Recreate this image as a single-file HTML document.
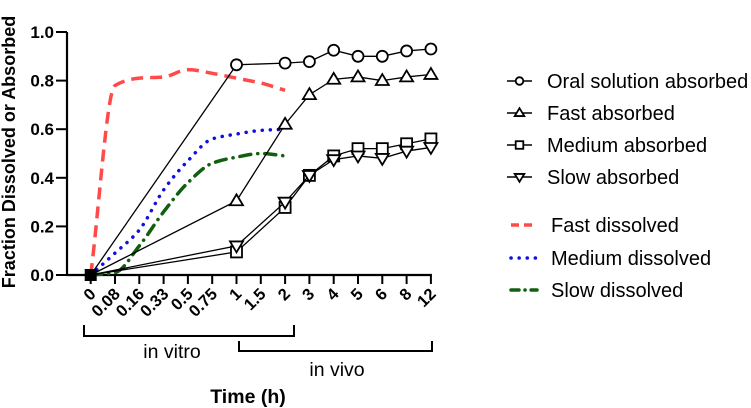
<!DOCTYPE html>
<html><head><meta charset="utf-8">
<style>
html,body{margin:0;padding:0;background:#fff;width:751px;height:408px;overflow:hidden}
svg text{font-family:"Liberation Sans",Arial,sans-serif}
</style></head>
<body>
<svg id="chart" width="751" height="408" viewBox="0 0 751 408" xmlns="http://www.w3.org/2000/svg"></svg>
<script>
const categories=["0","0.08","0.16","0.33","0.5","0.75","1","1.5","2","3","4","5","6","8","12"];
const yTicks=[0,0.2,0.4,0.6,0.8,1.0];
const yTickLabels=["0.0","0.2","0.4","0.6","0.8","1.0"];
const absIdx=[0,6,8,9,10,11,12,13,14];
const oralAbs=[0,0.865,0.872,0.878,0.925,0.9,0.9,0.922,0.93];
const fastAbs=[0,0.305,0.62,0.742,0.805,0.815,0.8,0.815,0.825];
const mediumAbs=[0,0.095,0.278,0.41,0.49,0.52,0.52,0.54,0.56];
const slowAbs=[0,0.12,0.3,0.41,0.475,0.49,0.48,0.51,0.525];
const dissIdx=[0,1,2,3,4,5,6,7,8];
const fastDiss=[0,0.78,0.81,0.815,0.845,0.83,0.81,0.79,0.76];
const mediumDiss=[0,0.09,0.185,0.35,0.47,0.56,0.58,0.595,0.6];
const slowDiss=[0,0.01,0.12,0.26,0.38,0.46,0.485,0.5,0.49];

const NS="http://www.w3.org/2000/svg";
const svg=document.getElementById('chart');
function mk(t,a,p){const e=document.createElementNS(NS,t);for(const k in a)e.setAttribute(k,a[k]);(p||svg).appendChild(e);return e;}
const x0=90.7,dx=24.3,yB=275,yT=32;
function X(i){return x0+i*dx;}
function Y(v){return yB-(yB-yT)*v;}

let e=mk('line',{x1:67,y1:yT,x2:67,y2:yB+1,stroke:'#000','stroke-width':2.2});

e=mk('line',{x1:66,y1:yB,x2:X(14)+1,y2:yB,stroke:'#000','stroke-width':2.2});

yTicks.forEach((v,i)=>{
  mk('line',{x1:56,y1:Y(v),x2:67,y2:Y(v),stroke:'#000','stroke-width':2});
  const t=mk('text',{x:54,y:Y(v)+6,'text-anchor':'end','font-size':17,'font-weight':'bold'});
  t.textContent=yTickLabels[i];
  
  
});
categories.forEach((c,i)=>{
  mk('line',{x1:X(i),y1:yB,x2:X(i),y2:yB+9,stroke:'#000','stroke-width':2});
  const t=mk('text',{x:X(i)+6,y:yB+20,'text-anchor':'end','font-size':16.5,'font-weight':'bold',transform:`rotate(-45 ${X(i)+6} ${yB+20})`});
  t.textContent=c;
  
  
});
e=mk('text',{x:0,y:0,'text-anchor':'middle','font-size':18,'font-weight':'bold',transform:'translate(15 152) rotate(-90)'});
e.textContent='Fraction Dissolved or Absorbed';

e=mk('text',{x:248,y:403,'text-anchor':'middle','font-size':19.5,'font-weight':'bold'});
e.textContent='Time (h)';

e=mk('path',{d:'M84 325 V336 H294 V325',fill:'none',stroke:'#000','stroke-width':2});

e=mk('text',{x:172,y:358,'text-anchor':'middle','font-size':19.5});e.textContent='in vitro';

e=mk('path',{d:'M239 341 V351 H432 V341',fill:'none',stroke:'#000','stroke-width':2});

e=mk('text',{x:337,y:376,'text-anchor':'middle','font-size':19.5});e.textContent='in vivo';


function marker(type,cx,cy,g,s){
  s=s||5.5;
  if(type==='circle')return mk('circle',{cx,cy,r:s,fill:'#fff',stroke:'#000','stroke-width':1.8},g);
  if(type==='square')return mk('rect',{x:cx-s,y:cy-s,width:2*s,height:2*s,fill:'#fff',stroke:'#000','stroke-width':1.8},g);
  if(type==='tri')return mk('polygon',{points:`${cx},${cy-s-1} ${cx-s-1},${cy+s*0.8} ${cx+s+1},${cy+s*0.8}`,fill:'#fff',stroke:'#000','stroke-width':1.8},g);
  return mk('polygon',{points:`${cx},${cy+s+1} ${cx-s-1},${cy-s*0.8} ${cx+s+1},${cy-s*0.8}`,fill:'#fff',stroke:'#000','stroke-width':1.8},g);
}
// monotone cubic interpolation (no overshoot)
function monoPath(p){
  const n=p.length,dxs=[],ms=[],t=[];
  for(let i=0;i<n-1;i++){dxs.push(p[i+1][0]-p[i][0]);ms.push((p[i+1][1]-p[i][1])/dxs[i]);}
  t[0]=ms[0];t[n-1]=ms[n-2];
  for(let i=1;i<n-1;i++){
    if(ms[i-1]*ms[i]<=0)t[i]=0;
    else{const w1=2*dxs[i]+dxs[i-1],w2=dxs[i]+2*dxs[i-1];t[i]=(w1+w2)/(w1/ms[i-1]+w2/ms[i]);}
  }
  let d=`M${p[0][0]},${p[0][1]}`;
  for(let i=0;i<n-1;i++){
    const h=dxs[i]/3;
    d+=` C${p[i][0]+h},${p[i][1]+t[i]*h} ${p[i+1][0]-h},${p[i+1][1]-t[i+1]*h} ${p[i+1][0]},${p[i+1][1]}`;
  }
  return d;
}
function dseries(name,vals,color,dash,w,cap){
  const g=mk('g',{});
  
  
  const pts=vals.map((v,k)=>[X(dissIdx[k]),Y(v)]);
  mk('path',{d:monoPath(pts),fill:'none',stroke:color,'stroke-width':w,'stroke-dasharray':dash,'stroke-linecap':cap,'stroke-linejoin':'round'},g);
}
dseries('fast-dissolved-line',fastDiss,'#ff4a4a','12 7',3.5,'butt');
dseries('medium-dissolved-line',mediumDiss,'#1010e0','0.1 8',3.5,'round');
dseries('slow-dissolved-line',slowDiss,'#106010','11 7 0.1 7',3.5,'round');
function aseries(name,vals,type){
  const g=mk('g',{});
  
  
  const pts=vals.map((v,k)=>X(absIdx[k])+','+Y(v)).join(' ');
  mk('polyline',{points:pts,fill:'none',stroke:'#000','stroke-width':1.3},g);
  vals.forEach((v,k)=>{ if(k>0) marker(type,X(absIdx[k]),Y(v),g); });
}
aseries('oral-solution-absorbed-line',oralAbs,'circle');
aseries('fast-absorbed-line',fastAbs,'tri');
aseries('medium-absorbed-line',mediumAbs,'square');
aseries('slow-absorbed-line',slowAbs,'dtri');
e=mk('rect',{x:X(0)-6,y:yB-6,width:12,height:12,fill:'#000'});


const legAbs=[['Oral solution absorbed','circle',81],['Fast absorbed','tri',113],['Medium absorbed','square',145],['Slow absorbed','dtri',177]];
legAbs.forEach(([txt,type,y])=>{
  const g=mk('g',{});
  
  
  mk('line',{x1:507,y1:y,x2:532,y2:y,stroke:'#000','stroke-width':1.5},g);
  marker(type,519.5,y,g,3.8);
  const t=mk('text',{x:547,y:y+7,'font-size':20},g);t.textContent=txt;
});
const legDiss=[['Fast dissolved','#ff4a4a','8 5',225,'butt'],['Medium dissolved','#1010e0','0.1 8',258,'round'],['Slow dissolved','#106010','8 6 0.1 6',290,'round']];
legDiss.forEach(([txt,c,d,y,cap])=>{
  const g=mk('g',{});
  
  
  mk('line',{x1:511,y1:y,x2:537,y2:y,stroke:c,'stroke-width':3.5,'stroke-dasharray':d,'stroke-linecap':cap},g);
  const t=mk('text',{x:551,y:y+7,'font-size':20},g);t.textContent=txt;
});
</script>
</body></html>
